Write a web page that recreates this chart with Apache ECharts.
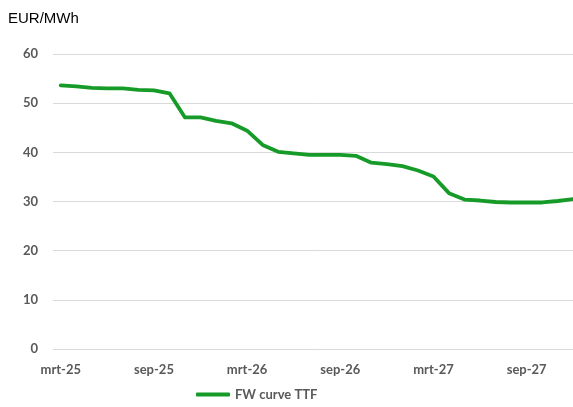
<!DOCTYPE html>
<html>
<head>
<meta charset="utf-8">
<script src="https://cdn.jsdelivr.net/npm/echarts@6/dist/echarts.min.js"></script>
<style>
  html, body { margin: 0; padding: 0; background: #fff; }
  #chart { width: 573px; height: 407px; }
</style>
</head>
<body>
<div id="chart"></div>
<script>
// maanden mrt-25 t/m dec-27
const months = ['jan', 'feb', 'mrt', 'apr', 'mei', 'jun', 'jul', 'aug', 'sep', 'okt', 'nov', 'dec']
const categories = []
for (let i = 0; i < 34; i++) {
  const m = (2 + i) % 12
  const y = 25 + Math.floor((2 + i) / 12)
  categories.push(months[m] + '-' + y)
}

const seriesName = 'FW curve TTF'
const ttfValues = [
  53.6, 53.4, 53.1, 53.0, 53.0, 52.7, 52.6, 52.0, 47.1, 47.1,
  46.4, 45.9, 44.4, 41.5, 40.1, 39.8, 39.5, 39.5, 39.5, 39.3,
  37.9, 37.6, 37.2, 36.3, 35.1, 31.7, 30.4, 30.2, 29.9, 29.8,
  29.8, 29.8, 30.1, 30.5
]
const yTicks = { min: 0, max: 60, interval: 10 }

const chart = echarts.init(document.getElementById('chart'))

const option = {
  animation: false,
  textStyle: { fontFamily: 'Lato' },
  graphic: [{
    type: 'text',
    left: 8,
    top: 11,
    style: { text: 'EUR/MWh', fontSize: 15, fill: '#000', fontFamily: 'Liberation Sans' }
  }],
  grid: {
    left: 53,
    width: 528, // loopt iets voorbij de rechterrand, zoals in het origineel
    top: 54,
    bottom: 58,
    outerBoundsMode: 'none'
  },
  legend: {
    data: [seriesName],
    bottom: 1,
    left: 191,
    itemWidth: 34,
    itemHeight: 4,
    itemGap: 2,
    icon: 'roundRect',
    textStyle: { color: '#595959', fontSize: 13, fontWeight: 'bold' }
  },
  xAxis: {
    type: 'category',
    data: categories,
    boundaryGap: true,
    axisLine: { show: false },
    axisTick: { show: false },
    axisLabel: {
      interval: 5,
      color: '#595959',
      fontSize: 13,
      fontWeight: 'bold',
      margin: 14
    }
  },
  yAxis: {
    type: 'value',
    min: yTicks.min,
    max: yTicks.max,
    interval: yTicks.interval,
    axisLine: { show: false },
    axisTick: { show: false },
    axisLabel: { color: '#595959', fontSize: 13, fontWeight: 'bold', margin: 15 },
    splitLine: { lineStyle: { color: '#d9d9d9', width: 1 } }
  },
  series: [{
    name: seriesName,
    type: 'line',
    data: ttfValues,
    showSymbol: false,
    symbol: 'none',
    lineStyle: { color: '#169b28', width: 3.8, join: 'round', cap: 'round' },
    itemStyle: { color: '#169b28' }
  }]
}

chart.setOption(option)
</script>
</body>
</html>
